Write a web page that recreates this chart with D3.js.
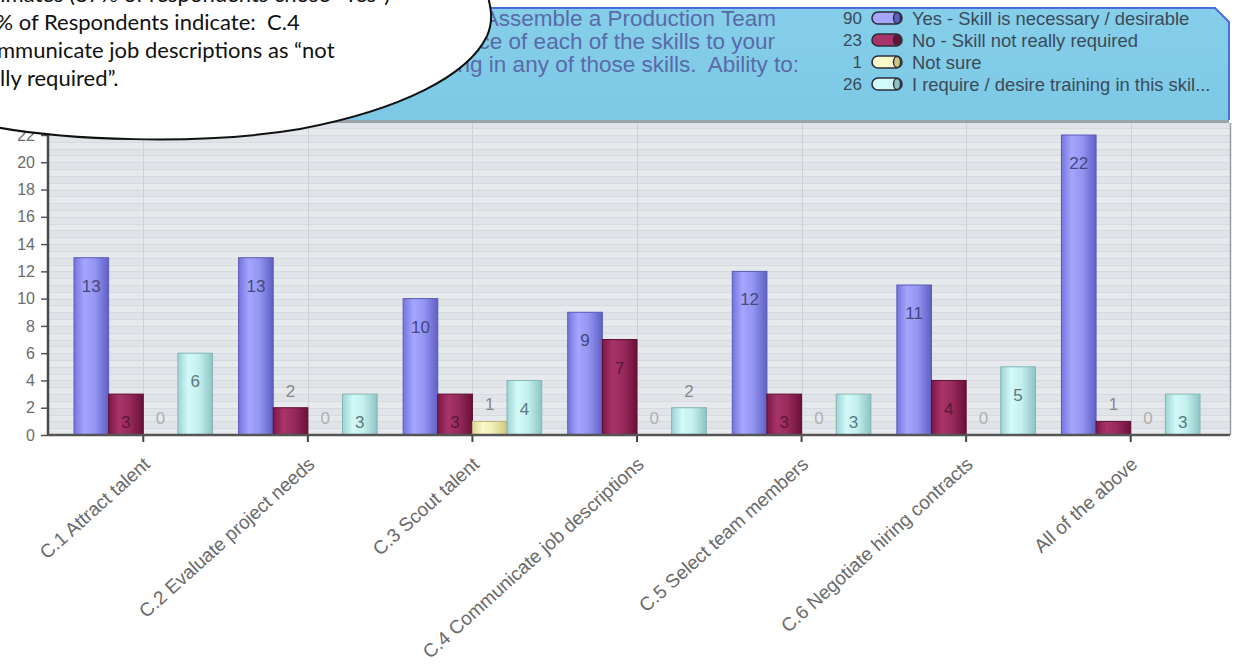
<!DOCTYPE html>
<html>
<head>
<meta charset="utf-8">
<script src="https://cdn.jsdelivr.net/npm/d3@7"></script>
<style>
  html, body { margin: 0; padding: 0; background: #ffffff; }
  svg { display: block; }
  text.pre { white-space: pre; }
</style>
</head>
<body>
<svg id="chart" width="1238" height="665"></svg>
<script>
// Skill categories along the x axis
const categories = [
  "C.1 Attract talent",
  "C.2 Evaluate project needs",
  "C.3 Scout talent",
  "C.4 Communicate job descriptions",
  "C.5 Select team members",
  "C.6 Negotiate hiring contracts",
  "All of the above"
];

// Response counts per category
const yesValues      = [13, 13, 10, 9, 12, 11, 22];
const noValues       = [3, 2, 3, 7, 3, 4, 1];
const notSureValues  = [0, 0, 1, 0, 0, 0, 0];
const trainingValues = [6, 3, 4, 2, 3, 5, 3];

const seriesKeys = ["yes", "no", "notsure", "training"];
const seriesLabels = [
  "Yes - Skill is necessary / desirable",
  "No - Skill not really required",
  "Not sure",
  "I require / desire training in this skil..."
];
const seriesValues = [yesValues, noValues, notSureValues, trainingValues];

const yTicks = [0, 2, 4, 6, 8, 10, 12, 14, 16, 18, 20, 22];

const titleLines = [
  "C. Ability to Assemble a Production Team",
  "Please rate the importance of each of the skills to your",
  "work and whether you require training in any of those skills.  Ability to:"
];

const noteLines = [
  "Estimates (87% of respondents chose \u201cYes\u201d)",
  "30% of Respondents indicate:  C.4",
  "Communicate job descriptions as \u201cnot",
  "really required\u201d."
];

// Colour ramps (left edge, highlight, body, right edge) giving a cylinder look
const palette = {
  yes:      { stops: ["#7474dc", "#a6a6ff", "#9494f2", "#6060c4"], stroke: "#5a5ab8", label: "#44487e" },
  no:       { stops: ["#7c1844", "#a8346a", "#982a5c", "#6a1038"], stroke: "#5e0e32", label: "#581838" },
  notsure:  { stops: ["#dcd894", "#fbf8cc", "#f0ecb0", "#cdc784"], stroke: "#b8b278", label: "#6a6a50" },
  training: { stops: ["#9ed4d4", "#d2faf8", "#c4f0ee", "#8ec4c4"], stroke: "#84b4b4", label: "#5a7a7c" }
};

const svg = d3.select("#chart");

const plotLeft = 48, plotRight = 1230, plotTop = 123, plotBottom = 435;

const y = d3.scaleLinear().domain([0, 22]).range([plotBottom, 135]);
const x0 = d3.scaleBand().domain(categories).range([61, 1213]).padding(0);
const x1 = d3.scaleBand().domain(seriesKeys)
  .range([x0.bandwidth() * 0.079, x0.bandwidth() * 0.921]).padding(0);

// ---------- gradients ----------
const defs = svg.append("defs");
seriesKeys.forEach(k => {
  const g = defs.append("linearGradient").attr("id", "grad-" + k)
    .attr("x1", "0").attr("x2", "1").attr("y1", "0").attr("y2", "0");
  const offs = [0, 0.3, 0.6, 1];
  palette[k].stops.forEach((c, i) => g.append("stop").attr("offset", offs[i]).attr("stop-color", c));
});
defs.append("linearGradient").attr("id", "panelGrad")
  .attr("x1", 0).attr("x2", 0).attr("y1", 0).attr("y2", 1)
  .call(g => {
    g.append("stop").attr("offset", 0).attr("stop-color", "#86cfea");
    g.append("stop").attr("offset", 1).attr("stop-color", "#7cc8e5");
  });

// ---------- plot background ----------
const plot = svg.append("g");
plot.append("rect")
  .attr("x", plotLeft).attr("y", plotTop)
  .attr("width", plotRight - plotLeft).attr("height", plotBottom - plotTop)
  .attr("fill", "#e7eaed");

// alternating half-unit stripes
const stripeVals = d3.range(0, 23, 0.5);
plot.selectAll("rect.stripe")
  .data(stripeVals.filter((d, i) => i % 2 === 1))
  .join("rect")
  .attr("class", "stripe")
  .attr("x", plotLeft)
  .attr("y", d => Math.max(plotTop, y(d + 0.5)))
  .attr("width", plotRight - plotLeft)
  .attr("height", d => Math.max(0, y(d) - Math.max(plotTop, y(d + 0.5))))
  .attr("fill", "#e0e3e7");
plot.selectAll("line.hgrid")
  .data(stripeVals.filter(d => y(d) > plotTop))
  .join("line")
  .attr("class", "hgrid")
  .attr("x1", plotLeft).attr("x2", plotRight)
  .attr("y1", d => Math.round(y(d)) + 0.5).attr("y2", d => Math.round(y(d)) + 0.5)
  .attr("stroke", "#d6d9dd").attr("stroke-width", 1);

// vertical grid lines at category centres
plot.selectAll("line.vgrid")
  .data(categories)
  .join("line")
  .attr("class", "vgrid")
  .attr("x1", d => Math.round(x0(d) + x0.bandwidth() / 2) + 0.5)
  .attr("x2", d => Math.round(x0(d) + x0.bandwidth() / 2) + 0.5)
  .attr("y1", plotTop).attr("y2", plotBottom)
  .attr("stroke", "#cdd1d6").attr("stroke-width", 1);

// right border of plot
plot.append("line")
  .attr("x1", plotRight + 0.5).attr("x2", plotRight + 0.5)
  .attr("y1", plotTop).attr("y2", plotBottom)
  .attr("stroke", "#9a9ea4").attr("stroke-width", 1.5);

// ---------- bars ----------
const rows = categories.map((c, i) => ({
  category: c,
  values: seriesKeys.map((k, j) => ({ key: k, value: seriesValues[j][i] }))
}));

const groups = svg.append("g").selectAll("g.cat")
  .data(rows).join("g")
  .attr("class", "cat")
  .attr("transform", d => `translate(${x0(d.category)},0)`);

groups.selectAll("rect.bar")
  .data(d => d.values.filter(v => v.value > 0))
  .join("rect")
  .attr("class", "bar")
  .attr("x", d => x1(d.key))
  .attr("y", d => y(d.value))
  .attr("width", x1.bandwidth())
  .attr("height", d => y(0) - y(d.value))
  .attr("fill", d => `url(#grad-${d.key})`)
  .attr("stroke", d => palette[d.key].stroke)
  .attr("stroke-width", 1);

// value labels: inside near the top when the bar is tall enough, above otherwise
const inside = d => (y(0) - y(d.value)) >= 34;
groups.selectAll("text.val")
  .data(d => d.values)
  .join("text")
  .attr("class", "val")
  .attr("x", d => x1(d.key) + x1.bandwidth() / 2)
  .attr("y", d => inside(d) ? y(d.value) + 28 : y(d.value) - 17)
  .attr("dy", "0.36em")
  .attr("text-anchor", "middle")
  .attr("font-family", "'Liberation Sans', Arial, sans-serif")
  .attr("font-size", 17)
  .attr("fill", d => inside(d) ? palette[d.key].label : (d.value === 0 ? "#b0b0b0" : "#888888"))
  .text(d => d.value);

// ---------- axes ----------
const yAxis = svg.append("g")
  .attr("transform", `translate(${plotLeft},0)`)
  .call(d3.axisLeft(y).tickValues(yTicks).tickSize(7).tickPadding(6).tickFormat(d3.format("d")));
yAxis.select(".domain").remove();
yAxis.selectAll(".tick line").attr("stroke", "#555").attr("stroke-width", 1.5);
yAxis.selectAll(".tick text")
  .attr("font-family", "'Liberation Sans', Arial, sans-serif")
  .attr("font-size", 16).attr("fill", "#6c6c6c");
svg.append("line")
  .attr("x1", plotLeft).attr("x2", plotLeft)
  .attr("y1", plotTop).attr("y2", plotBottom + 1)
  .attr("stroke", "#4a4a4a").attr("stroke-width", 2.5);

const xAxis = svg.append("g")
  .attr("transform", `translate(0,${plotBottom})`)
  .call(d3.axisBottom(x0).tickSize(7).tickFormat(""));
xAxis.select(".domain").remove();
xAxis.selectAll(".tick line").attr("stroke", "#444").attr("stroke-width", 2);
svg.append("line")
  .attr("x1", plotLeft).attr("x2", plotRight)
  .attr("y1", plotBottom).attr("y2", plotBottom)
  .attr("stroke", "#555").attr("stroke-width", 2.5);

// rotated category labels
svg.append("g").selectAll("text.cat")
  .data(categories).join("text")
  .attr("class", "cat")
  .attr("text-anchor", "end")
  .attr("font-family", "'Liberation Sans', Arial, sans-serif")
  .attr("font-size", 19)
  .attr("fill", "#6a6a6a")
  .attr("transform", d => `translate(${x0(d) + x0.bandwidth() / 2 + 8},${plotBottom + 31}) rotate(-42)`)
  .text(d => d);

// ---------- title / legend panel ----------
const panel = svg.append("g");
const pL = 48, pR = 1229, pT = 8, pB = 120, cut = 14;
panel.append("rect")
  .attr("x", pL).attr("y", pB).attr("width", pR - pL).attr("height", 3)
  .attr("fill", "#9aa3aa");
panel.append("path")
  .attr("d", `M${pL},${pB} L${pL},${pT} L${pR - cut},${pT} L${pR},${pT + cut} L${pR},${pB} Z`)
  .attr("fill", "url(#panelGrad)");
panel.append("path")
  .attr("d", `M${pL},${pT} L${pR - cut},${pT} L${pR},${pT + cut} L${pR},${pB}`)
  .attr("fill", "none").attr("stroke", "#4a6ee0").attr("stroke-width", 2);

panel.selectAll("text.title")
  .data(titleLines).join("text")
  .attr("class", "title pre")
  .attr("x", (d, i) => [776, 775, 799][i])
  .attr("y", (d, i) => 18 + i * 23)
  .attr("dy", "0.36em")
  .attr("text-anchor", "end")
  .attr("font-family", "'Liberation Sans', Arial, sans-serif")
  .attr("font-size", 22.5)
  .attr("fill", "#5a6aa8")
  .text(d => d);

const legend = panel.append("g").selectAll("g.leg")
  .data(seriesKeys.map((k, i) => ({ key: k, label: seriesLabels[i], total: d3.sum(seriesValues[i]) })))
  .join("g")
  .attr("class", "leg")
  .attr("transform", (d, i) => `translate(0,${18 + i * 22})`);
legend.append("text")
  .attr("x", 862).attr("dy", "0.36em")
  .attr("text-anchor", "end")
  .attr("font-family", "'Liberation Sans', Arial, sans-serif")
  .attr("font-size", 17).attr("fill", "#3c4a58")
  .text(d => d.total);
legend.append("rect")
  .attr("x", 872).attr("y", -6).attr("width", 30).attr("height", 12).attr("rx", 6)
  .attr("fill", d => palette[d.key].stops[1])
  .attr("stroke", "#2e2e3a").attr("stroke-width", 1.6);
legend.append("ellipse")
  .attr("cx", 897).attr("cy", 0).attr("rx", 3.5).attr("ry", 5.5)
  .attr("fill", d => palette[d.key].stops[3])
  .attr("stroke", "#2e2e3a").attr("stroke-width", 1.4);
legend.append("text")
  .attr("x", 912).attr("dy", "0.36em")
  .attr("font-family", "'Liberation Sans', Arial, sans-serif")
  .attr("font-size", 18.4).attr("fill", "#3c4a58")
  .text(d => d.label);

// ---------- callout bubble ----------
const bubble = svg.append("g");
bubble.append("path")
  .attr("d", "M-10,126 C60,140 200,146 300,129 C400,110 468,76 487,36 C494,20 491,6 486,-10 L-10,-10 Z")
  .attr("fill", "#ffffff")
  .attr("stroke", "#111111").attr("stroke-width", 2);
bubble.selectAll("text.note")
  .data(noteLines).join("text")
  .attr("class", "note pre")
  .attr("x", -30)
  .attr("y", (d, i) => 2 + i * 28)
  .attr("font-family", "Lato, 'Open Sans', sans-serif")
  .attr("font-size", 22)
  .attr("fill", "#111")
  .text(d => d);
</script>
</body>
</html>
